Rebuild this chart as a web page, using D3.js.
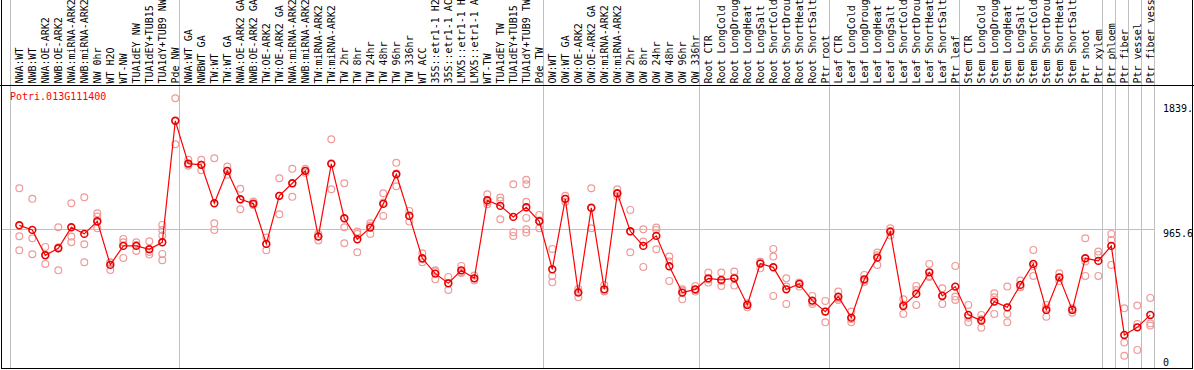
<!DOCTYPE html>
<html>
<head>
<meta charset="utf-8">
<script src="https://cdn.jsdelivr.net/npm/d3@7"></script>
<style>
  html, body { margin: 0; padding: 0; background: #fff; }
  svg { display: block; }
  text { font-family: "DejaVu Sans Mono", monospace; font-size: 10px; }
</style>
</head>
<body>
<script>
const geneId = "Potri.013G111400";

// column labels as visible in the chart header
const categories = [
  "NWA:WT","NWB:WT","NWA:OE-ARK2","NWB:OE-ARK2","NWA:miRNA-ARK2","NWB:miRNA-ARK2","NW 0hr","WT H2O","WT-NW","TUA1dEY NW","TUA1dEY+TUB15","TUA1dY+TUB9 NW","Pde NW",
  "NWA:WT GA","NWBWT GA","TW:WT","TW:WT GA","NWA:OE-ARK2 GA","NWB:OE-ARK2 GA","TW:OE-ARK2","TW:OE-ARK2 GA","NWA:miRNA-ARK2","NWB:miRNA-ARK2","TW:miRNA-ARK2","TW:miRNA-ARK2",
  "TW 2hr","TW 8hr","TW 24hr","TW 48hr","TW 96hr","TW 336hr","WT ACC","35S::etr1-1 H2","35S::etr1-1 AC","LMX5::etr1-1 H","LMX5::etr1-1 A","WT-TW","TUA1dEY TW","TUA1dEY+TUB15","TUA1dY+TUB9 TW","Pde TW",
  "OW:WT","OW:WT GA","OW:OE-ARK2","OW:OE-ARK2 GA","OW:miRNA-ARK2","OW:miRNA-ARK2","OW 2hr","OW 8hr","OW 24hr","OW 48hr","OW 96hr","OW 336hr",
  "Root CTR","Root LongCold","Root LongDroug","Root LongHeat","Root LongSalt","Root ShortCold","Root ShortDrou","Root ShortHeat","Root ShortSalt","Ptr root",
  "Leaf CTR","Leaf LongCold","Leaf LongDroug","Leaf LongHeat","Leaf LongSalt","Leaf ShortCold","Leaf ShortDrou","Leaf ShortHeat","Leaf ShortSalt","Ptr leaf",
  "Stem CTR","Stem LongCold","Stem LongDroug","Stem LongHeat","Stem LongSalt","Stem ShortCold","Stem ShortDrou","Stem ShortHeat","Stem ShortSalt","Ptr shoot","Ptr xylem",
  "Ptr phloem","Ptr fiber","Ptr vessel","Ptr fiber vess"
];

// indices where a new sample group starts (separator lines)
const groupStarts = [0, 13, 41, 53, 63, 73, 84, 85, 86, 87, 88];

const meanValues = [
  988, 956, 778, 827, 974, 928, 1016, 711, 844, 844, 820, 869, 1719,
  1420, 1411, 1142, 1369, 1170, 1140, 858, 1194, 1282, 1369, 909, 1418,
  1037, 890, 972, 1138, 1345, 1054, 757, 650, 582, 673, 617, 1163, 1124, 1047, 1114, 1016,
  680, 1173, 517, 1110, 540, 1212, 946, 844, 914, 701, 517, 540,
  617, 606, 617, 431, 720, 694, 540, 578, 461, 384,
  489, 342, 610, 762, 944, 424, 508, 659, 494, 559,
  361, 321, 454, 414, 571, 718, 396, 624, 396, 757, 739,
  844, 221, 274, 361
];

const replicateValues = [
  [1247, 911, 813], [1173, 897, 785], [837, 781, 718], [974, 834, 673], [1142, 909, 869],
  [1184, 855, 729], [1072, 1049, 1012, 967], [729, 725, 676], [893, 869, 760], [869, 851, 809],
  [876, 802, 783], [991, 956, 916, 788, 743], [1877, 1723, 1555],
  [1446, 1411, 1404], [1446, 1411, 1373], [1457, 1002, 956], [1399, 1369, 1341], [1243, 1169, 1100],
  [1154, 1138, 1131], [902, 858, 813], [1317, 1194, 1065], [1383, 1281, 1187], [1383, 1369, 1355],
  [928, 914, 881], [1590, 1422, 1240],
  [1282, 974, 862], [944, 928, 799], [1002, 985, 928], [1212, 1147, 1054], [1425, 1350, 1261],
  [1089, 1058, 1014], [792, 750, 729], [673, 666, 610], [627, 585, 536], [704, 662, 655],
  [636, 616, 602], [1205, 1149, 1135], [1182, 1159, 1030], [1275, 939, 914],
  [1306, 1275, 1152, 1040, 960, 937], [1061, 1021, 967],
  [823, 634, 589], [1194, 1173, 1152], [543, 524, 484], [1247, 1114, 967], [571, 529, 524],
  [1240, 1208, 1189], [1096, 944, 799], [960, 874, 697], [972, 956, 820], [769, 734, 599],
  [540, 532, 470], [564, 535, 524],
  [657, 608, 587], [657, 596, 564], [664, 623, 566], [442, 434, 414], [734, 728, 687],
  [823, 769, 494], [617, 559, 438], [587, 584, 559], [494, 452, 438], [459, 384, 309],
  [524, 477, 466], [384, 333, 309], [641, 601, 592], [797, 778, 711], [967, 949, 916],
  [470, 433, 368], [564, 535, 431], [718, 634, 627], [547, 496, 438], [704, 489, 466],
  [431, 342, 309], [361, 330, 272], [512, 484, 368], [559, 368, 309], [601, 557, 554],
  [816, 704, 634], [431, 407, 349], [652, 622, 599], [407, 403, 377], [897, 734, 634],
  [804, 781, 634],
  [928, 886, 711], [407, 168, 75], [427, 298, 116], [480, 302, 287]
];

const tickValues = [0, 965.6, 1839];
const tickLabels = ["0", "965.6", "1839."];
const gridValues = [965.6];

// ---------------------------------------------------------------
const W = 1194, H = 370;
const svg = d3.select("body").append("svg").attr("width", W).attr("height", H);

const idx = d3.range(categories.length);
const x = d3.scaleBand().domain(idx).range([10.5, 10.5 + 13 * categories.length]).padding(0);
const px = i => x(i) + 8.8;
const xEnd = x(categories.length - 1) + x.bandwidth();
const y = d3.scaleLinear().domain([0, 1839]).range([366.5, 103.7]);

// grid: vertical separators
svg.append("g").selectAll("line").data(groupStarts).join("line")
  .attr("x1", k => k < categories.length ? x(k) : xEnd)
  .attr("x2", k => k < categories.length ? x(k) : xEnd)
  .attr("y1", 0).attr("y2", 369)
  .attr("stroke", "#c0c0c0").attr("stroke-width", 1);

// horizontal grid line
svg.append("g").selectAll("line").data(gridValues).join("line")
  .attr("x1", 1).attr("x2", xEnd)
  .attr("y1", d => Math.round(y(d)) + 0.5).attr("y2", d => Math.round(y(d)) + 0.5)
  .attr("stroke", "#c0c0c0").attr("stroke-width", 1);

// borders
const border = svg.append("g").attr("stroke", "#000").attr("stroke-width", 1).attr("fill", "none");
border.append("line").attr("x1", 0).attr("x2", W).attr("y1", 85.5).attr("y2", 85.5);
border.append("line").attr("x1", 1.5).attr("x2", 1.5).attr("y1", 0).attr("y2", 369);
border.append("line").attr("x1", 1192.5).attr("x2", 1192.5).attr("y1", 0).attr("y2", 369);
border.append("line").attr("x1", 1).attr("x2", 1193).attr("y1", 368.5).attr("y2", 368.5);

// column header labels (rotated)
svg.append("g").selectAll("text").data(idx).join("text")
  .attr("transform", i => `translate(${px(i) + 3.6},83.5) rotate(-90)`)
  .attr("text-anchor", "start")
  .attr("fill", "#000")
  .text(i => categories[i]);

// gene id
svg.append("text").attr("x", 10).attr("y", 100).attr("fill", "#ff0000").text(geneId);

// right axis labels
const yAxis = d3.axisRight(y).tickValues(tickValues)
  .tickFormat((d, i) => tickLabels[i]).tickSize(0).tickPadding(0);
const ag = svg.append("g").attr("transform", "translate(1163,0)").call(yAxis);
ag.select(".domain").remove();
ag.selectAll("text")
  .attr("fill", "#000")
  .style("font-family", "'DejaVu Sans Mono', monospace")
  .style("font-size", "10px")
  .attr("y", d => d === 0 ? -3.8 : 4.3);

// replicate points
const reps = [];
replicateValues.forEach((arr, i) => arr.forEach(v => reps.push({ i, v })));
svg.append("g").selectAll("circle").data(reps).join("circle")
  .attr("cx", d => px(d.i)).attr("cy", d => y(d.v)).attr("r", 3.4)
  .attr("fill", "none").attr("stroke", "#f09a9a").attr("stroke-width", 1.2);

// mean line
const line = d3.line().x((d, i) => px(i)).y(d => y(d));
svg.append("path").datum(meanValues).attr("d", line)
  .attr("fill", "none").attr("stroke", "#ff0000").attr("stroke-width", 1.2);

// mean points
svg.append("g").selectAll("circle").data(meanValues).join("circle")
  .attr("cx", (d, i) => px(i)).attr("cy", d => y(d)).attr("r", 3.4)
  .attr("fill", "none").attr("stroke", "#e60000").attr("stroke-width", 1.6);
</script>
</body>
</html>
